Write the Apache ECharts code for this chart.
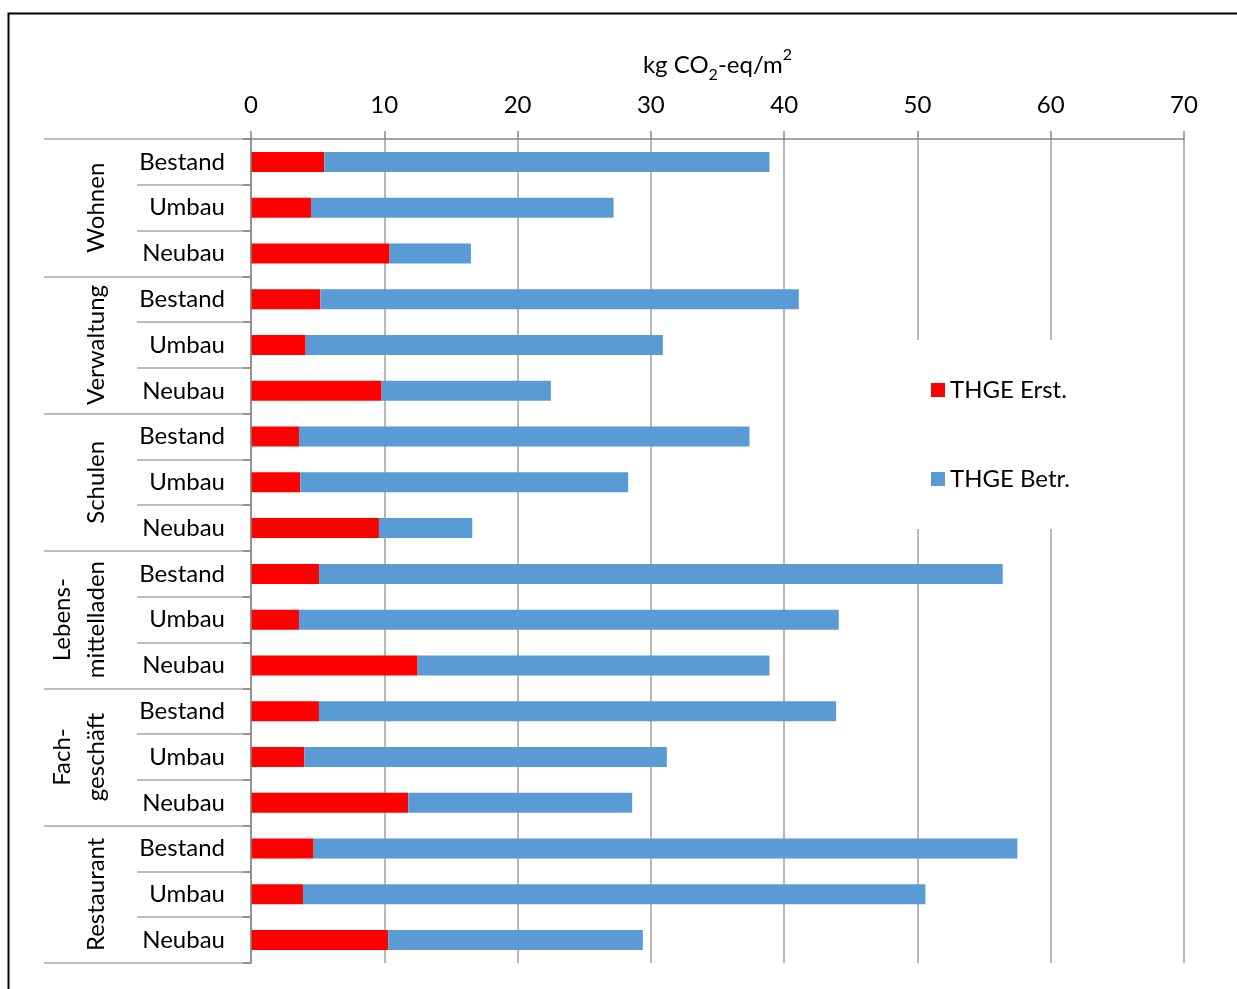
<!DOCTYPE html>
<html><head><meta charset="utf-8">
<script src="https://cdn.jsdelivr.net/npm/echarts@6/dist/echarts.min.js"></script>
<style>html,body{margin:0;padding:0;background:#fff}#c{width:1237px;height:989px}</style>
</head><body><div id="c"></div>
<script>
// ---- data ----
const groups = ['Wohnen', 'Verwaltung', 'Schulen', 'Lebens-\nmittelladen', 'Fach-\ngeschäft', 'Restaurant'];
const variants = ['Bestand', 'Umbau', 'Neubau'];
const seriesNames = ['THGE Erst.', 'THGE Betr.'];
const erst = [5.5, 4.5, 10.4, 5.2, 4.1, 9.8, 3.6, 3.7, 9.6, 5.1, 3.6, 12.5, 5.1, 4.0, 11.8, 4.7, 3.9, 10.3];
const betr = [33.4, 22.7, 6.1, 35.9, 26.8, 12.7, 33.8, 24.6, 7.0, 51.3, 40.5, 26.4, 38.8, 27.2, 16.8, 52.8, 46.7, 19.1];
const xMin = 0, xMax = 70, xInterval = 10;

const categories = [];
groups.forEach(g => variants.forEach(v => categories.push(g + '|' + v)));

const FONT = 'Lato';
const FS = 24;
const chart = echarts.init(document.getElementById('c'), null, {renderer: 'canvas'});
const option = {
  animation: false,
  textStyle: {fontFamily: FONT},
  grid: {left: 251, right: 53, top: 139, bottom: 26, containLabel: false},
  legend: {
    orient: 'vertical', left: 905, top: 340,
    padding: [38, 14, 38, 26], itemGap: 65,
    itemWidth: 14, itemHeight: 14, icon: 'rect',
    backgroundColor: '#fff',
    textStyle: {fontFamily: FONT, fontSize: FS, color: '#000'},
    data: seriesNames
  },
  xAxis: {
    type: 'value', position: 'top', min: xMin, max: xMax, interval: xInterval,
    name: 'kg CO{sub|2}-eq/m{sup|2}', nameLocation: 'middle', nameGap: 56,
    nameTextStyle: {
      fontFamily: FONT, fontSize: FS, color: '#000', lineHeight: 34,
      rich: {
        sub: {fontFamily: FONT, fontSize: 16, color: '#000', lineHeight: 32, verticalAlign: 'bottom'},
        sup: {fontFamily: FONT, fontSize: 16, color: '#000', lineHeight: 36, verticalAlign: 'top'}
      }
    },
    axisLine: {show: true, lineStyle: {color: '#868686', width: 1.5}},
    axisTick: {show: true, length: 8, lineStyle: {color: '#868686', width: 1.5}},
    axisLabel: {fontFamily: FONT, fontSize: FS, color: '#000', margin: 22},
    splitLine: {show: true, lineStyle: {color: '#a0a0a0', width: 1.5}}
  },
  yAxis: [
    {
      type: 'category', data: categories, inverse: true, position: 'left', z: 4,
      axisLine: {show: true, lineStyle: {color: '#868686', width: 1.5}},
      axisTick: {show: true, interval: 0, length: 8, lineStyle: {color: '#868686', width: 1.5}},
      axisLabel: {fontFamily: FONT, fontSize: FS, color: '#000', margin: 26, interval: 0,
        formatter: v => v.split('|')[1]}
    },
    {
      type: 'category', data: categories, inverse: true, position: 'left', z: 2,
      axisLine: {show: false},
      axisTick: {show: true, interval: 0, length: 114, lineStyle: {color: '#a6a6a6', width: 1.5}},
      axisLabel: {show: false}
    },
    {
      type: 'category', data: groups, inverse: true, position: 'left', z: 2,
      axisLine: {show: false},
      axisTick: {show: true, interval: 0, length: 207, lineStyle: {color: '#a6a6a6', width: 1.5}},
      axisLabel: {fontFamily: FONT, fontSize: FS, color: '#000', rotate: 90, margin: 138, lineHeight: 34, interval: 0}
    }
  ],
  series: [
    {name: seriesNames[0], type: 'bar', stack: 't', data: erst, barWidth: 20, itemStyle: {color: '#ff0000'}},
    {name: seriesNames[1], type: 'bar', stack: 't', data: betr, barWidth: 20, itemStyle: {color: '#5b9bd5'}}
  ],
  graphic: [{
    type: 'rect', z: 100, silent: true,
    shape: {x: 8.5, y: 13.5, width: 1400, height: 1100},
    style: {fill: null, stroke: '#000', lineWidth: 2}
  }]
};
chart.setOption(option);
</script>
</body></html>
